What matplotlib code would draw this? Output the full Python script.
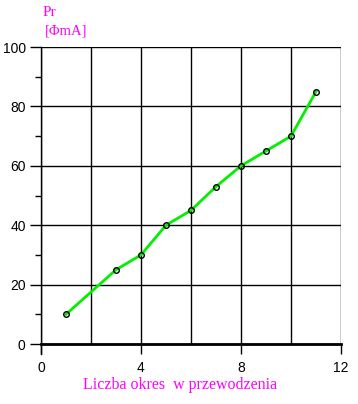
import numpy as np
import matplotlib.pyplot as plt
from matplotlib.ticker import MultipleLocator

# values
okresy = [1, 3, 4, 5, 6, 7, 8, 9, 10, 11]
prad = [10, 25, 30, 40, 45, 53, 60, 65, 70, 85]

x_ticks = [0, 4, 8, 12]
y_ticks = [0, 20, 40, 60, 80, 100]

magenta = '#ff00ff'
green = '#00f000'

plt.rcParams['font.family'] = 'Liberation Sans'

fig = plt.figure(figsize=(3.58, 4.04), dpi=100)
ax = fig.add_axes([0.1145, 0.1485, 0.838, 0.735])

ax.plot(okresy, prad, color=green, linewidth=2, zorder=3)
ax.plot(okresy, prad, linestyle='none', marker='o', markersize=4,
        markerfacecolor='none', markeredgecolor='black', markeredgewidth=1, zorder=4)

ax.set_xlim(0, 12)
ax.set_ylim(0, 100)
ax.set_xticks(x_ticks)
ax.set_yticks(y_ticks)
ax.xaxis.set_minor_locator(MultipleLocator(2))
ax.yaxis.set_minor_locator(MultipleLocator(10))

ax.grid(which='major', axis='y', color='black', linewidth=1)
ax.grid(which='both', axis='x', color='black', linewidth=1)
ax.set_axisbelow(True)

ax.tick_params(axis='x', which='major', length=7, width=1, pad=5, labelsize=10)
ax.tick_params(axis='x', which='minor', length=0)
ax.tick_params(axis='y', which='major', length=8, width=1, pad=3, labelsize=10)
ax.tick_params(axis='y', which='minor', length=4.5, width=1)

for s in ['top', 'right']:
    ax.spines[s].set_visible(False)
ax.spines['left'].set_linewidth(1)
ax.spines['bottom'].set_linewidth(2)
ax.spines['left'].set_bounds(-3.5, 100)

fig.text(0.503, 0.027, 'Liczba okres  w przewodzenia', color=magenta,
         family='Liberation Serif', fontsize=11.5, ha='center', va='bottom')

fig.text(0.137, 0.953, 'Pr', color=magenta, family='Liberation Serif',
         fontsize=11, ha='center', va='bottom')
fig.text(0.125, 0.908, '[ΦmA]', color=magenta, family='Liberation Serif',
         fontsize=10.5, ha='left', va='bottom')

fig.savefig('out.png', dpi=100)
